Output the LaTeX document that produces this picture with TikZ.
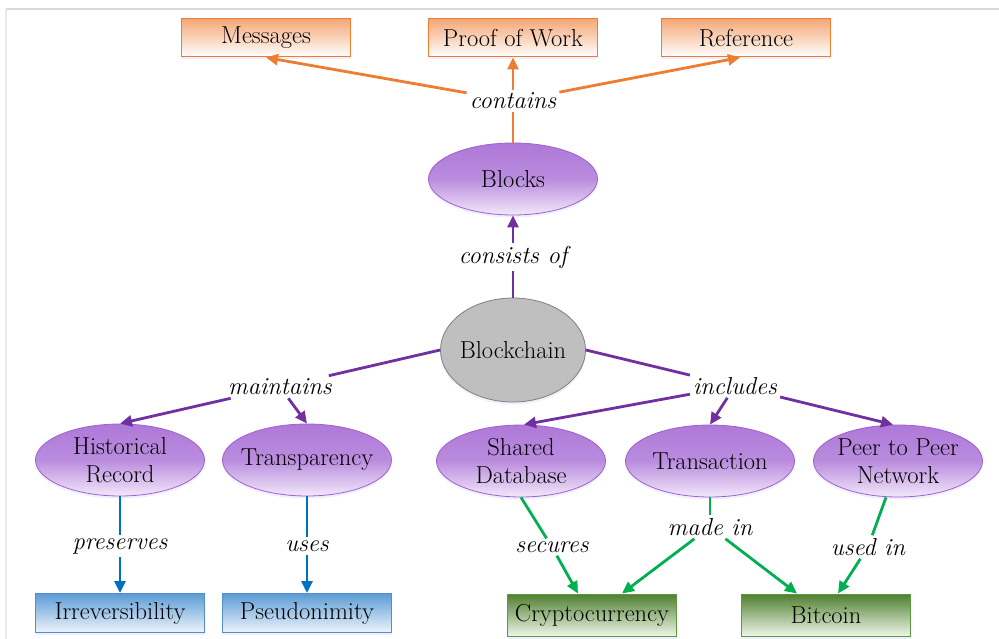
\documentclass[tikz,border=0pt]{standalone}
\usepackage{fontspec}
\usetikzlibrary{shapes.geometric,arrows.meta,shadows}
\definecolor{orE}{HTML}{ED7D31}
\definecolor{orTop}{HTML}{F4A877}
\definecolor{puE}{HTML}{7030A0}
\definecolor{puB}{HTML}{A060D0}
\definecolor{puTop}{HTML}{AE78D8}
\definecolor{puBot}{HTML}{F2E8FA}
\definecolor{blE}{HTML}{0070C0}
\definecolor{blB}{HTML}{4F8FD0}
\definecolor{blTop}{HTML}{5B9BD5}
\definecolor{blBot}{HTML}{EEF4FB}
\definecolor{grE}{HTML}{00B050}
\definecolor{grB}{HTML}{5A9A3A}
\definecolor{grTop}{HTML}{4E7F2E}
\definecolor{grBot}{HTML}{EEF6E8}
\definecolor{gyF}{HTML}{BFBFBF}
\definecolor{gyB}{HTML}{7F7F7F}
\begin{document}
\begin{tikzpicture}[x=1pt,y=-1pt,
  every node/.style={font=\fontsize{24.5}{28}\selectfont},
  lbl/.style={font=\fontsize{24.5}{28}\selectfont\itshape, fill=white, inner sep=3pt},
  glow/.style={drop shadow={opacity=0.25, fill=blue!25, shadow xshift=0pt, shadow yshift=-2.5pt}},
  obox/.style={rectangle, minimum width=169pt, minimum height=38pt, inner sep=0pt, draw=orE, line width=1pt, top color=orTop, bottom color=white, glow},
  bbox/.style={rectangle, minimum width=169pt, minimum height=39pt, inner sep=0pt, draw=blB, line width=1pt, top color=blTop, bottom color=blBot, glow},
  gbox/.style={rectangle, minimum width=169pt, minimum height=42pt, inner sep=0pt, draw=grB, line width=1pt, top color=grTop, bottom color=grBot, glow},
  pell/.style={ellipse, minimum width=169pt, minimum height=72pt, inner xsep=-16pt, inner ysep=-8pt, draw=puB, line width=0.8pt, top color=puTop, bottom color=puBot, middle color=puTop!85!white, align=center, glow},
  oedge/.style={draw=orE, line width=2.8pt},
  pedge/.style={draw=puE, line width=2.8pt},
  bedge/.style={draw=blE, line width=2.8pt},
  gedge/.style={draw=grE, line width=2.8pt},
  tip/.style={-{Triangle[length=12pt,width=11pt]}}
]
\useasboundingbox (0,0) rectangle (999,639);
\draw[draw=black!15, line width=1.2pt] (6,9) -- (999,9);
\draw[draw=blue!8!black!8, line width=2pt] (6,9) -- (6,639);

% top boxes
\node[obox] (msg) at (266,38) {Messages};
\node[obox] (pow) at (513,38) {Proof of Work};
\node[obox] (ref) at (746,38) {Reference};

% blocks and blockchain
\node[pell] (blocks) at (513,179) {Blocks};
\node[ellipse, minimum width=145pt, minimum height=104pt, inner xsep=-14pt, inner ysep=0pt, fill=gyF, draw=gyB, line width=0.8pt, glow] (chain) at (513,350) {Blockchain};

% middle ellipses
\node[pell] (hist) at (120,460) {Historical\\Record};
\node[pell] (transp) at (307,460) {Transparency};
\node[pell] (shared) at (521,461) {Shared\\Database};
\node[pell] (trans) at (710,461) {Transaction};
\node[pell] (peer) at (898,461) {Peer to Peer\\Network};

% bottom boxes
\node[bbox] (irr) at (120,613) {Irreversibility};
\node[bbox] (pseudo) at (307,613) {Pseudonimity};
\node[gbox] (crypto) at (592,615) {Cryptocurrency};
\node[gbox] (btc) at (826,615) {Bitcoin};

% labels
\node[lbl] (contains) at (513,101) {contains};
\node[lbl] (consists) at (513,257) {consists of};
\node[lbl] (maint) at (280,387) {maintains};
\node[lbl] (incl) at (735,386) {includes};
\node[lbl] (pres) at (120,546) {preserves};
\node[lbl] (uses) at (307,546) {uses};
\node[lbl] (secures) at (552,547) {secures};
\node[lbl] (madein) at (710,527) {made in};
\node[lbl] (usedin) at (868,547) {used in};

% orange edges
\draw[oedge] (blocks.north) -- (contains);
\draw[oedge,tip] (contains) -- (msg.south);
\draw[oedge,tip] (contains) -- (pow.south);
\draw[oedge,tip] (contains) -- ([xshift=-6pt]ref.south);

% purple edges
\draw[pedge] (chain.north) -- (consists);
\draw[pedge,tip] (consists) -- (blocks.south);
\draw[pedge] (chain.west) -- (maint);
\draw[pedge,tip] (maint) -- (hist.north);
\draw[pedge,tip] (maint) -- (transp.north);
\draw[pedge] (chain.east) -- (incl);
\draw[pedge,tip] (incl) -- ([xshift=3pt]shared.north);
\draw[pedge,tip] (incl) -- (trans.north);
\draw[pedge,tip] (incl) -- ([xshift=-5pt]peer.north);

% blue edges
\draw[bedge] (hist.south) -- (pres);
\draw[bedge,tip] (pres) -- (irr.north);
\draw[bedge] (transp.south) -- (uses);
\draw[bedge,tip] (uses) -- (pseudo.north);

% green edges
\draw[gedge] (shared.south) -- (secures);
\draw[gedge,tip] (secures) -- ([xshift=-14pt]crypto.north);
\draw[gedge] (trans.south) -- (madein);
\draw[gedge,tip] (madein) -- ([xshift=30pt]crypto.north);
\draw[gedge,tip] (madein) -- ([xshift=-29pt]btc.north);
\draw[gedge] ([xshift=-12pt]peer.south) -- (usedin);
\draw[gedge,tip] (usedin) -- ([xshift=12pt]btc.north);
\end{tikzpicture}
\end{document}
